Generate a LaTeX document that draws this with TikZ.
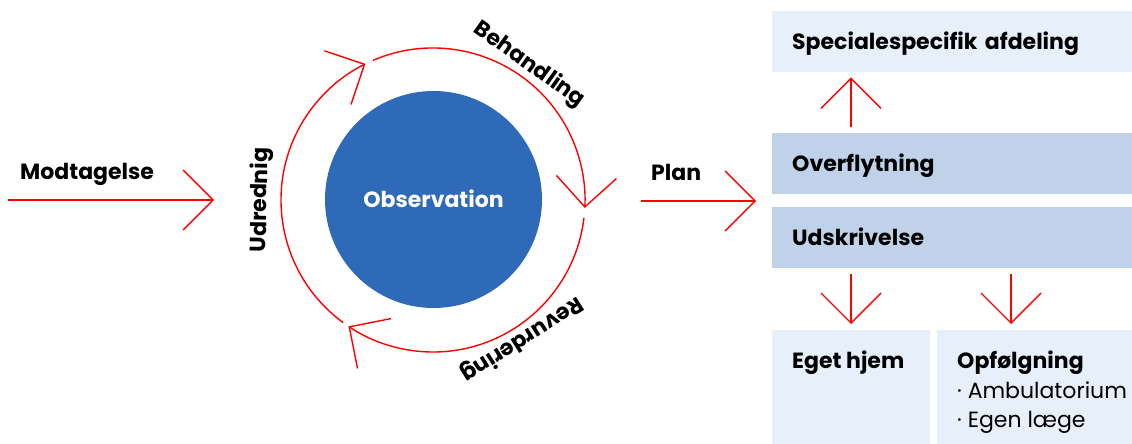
\documentclass[tikz,border=0pt]{standalone}
\usepackage{fontspec}
\setmainfont{Poppins}
\usetikzlibrary{arrows.meta,calc}
\definecolor{ringred}{RGB}{255,0,0}
\definecolor{obsblue}{RGB}{46,106,184}
\definecolor{paleblue}{RGB}{231,240,250}
\definecolor{midblue}{RGB}{192,210,234}
\begin{document}
\begin{tikzpicture}[x=1pt,y=-1pt,
  flow/.style={draw=ringred,line width=1.4pt,-{Straight Barb[length=30pt,width=60pt]}},
  lbl/.style={font=\bfseries\fontsize{22}{26}\selectfont,inner sep=0pt},
  item/.style={font=\fontsize{22}{26}\selectfont,inner sep=0pt},
  stage/.style={lbl,anchor=north west,inner xsep=20pt,inner ysep=0pt,
    text width=320pt,align=left,minimum height=61pt,text height=16pt,text depth=0pt},
  dest/.style={anchor=north west,inner sep=0pt,fill=paleblue}
]
\useasboundingbox (0,0) rectangle (1132,444);

% intake arrow
\node[lbl,anchor=base west] (modt) at (20,179) {Modtagelse};
\coordinate (in0) at (8,200);
\coordinate (in1) at (214,200);
\draw[flow] (in0) -- (in1);

% observation core and cycle
\coordinate (c) at (433,200);
\node[circle,fill=obsblue,minimum size=217pt,inner sep=0pt,text=white,
  font=\bfseries\fontsize{22}{26}\selectfont,text height=16pt,text depth=0pt]
  (obs) at (433.5,199.5) {Observation};
\draw[flow] ($(c)+(-113.3:152)$) arc[start angle=-113.3,end angle=3,radius=152];
\draw[flow] ($(c)+(6.8:152)$) arc[start angle=6.8,end angle=123.8,radius=152];
\draw[flow] ($(c)+(126.2:152)$) arc[start angle=126.2,end angle=243.6,radius=152];
\node[lbl,rotate=-35.4] (beh) at ($(c)+(-54.6:166)$) {Behandling};
\node[lbl,rotate=-147.5] (rev) at ($(c)+(57.5:165)$) {Revurdering};
\node[lbl,rotate=89] (udr) at ($(c)+(180:172)$) {Udrednig};

% plan arrow
\node[lbl,anchor=base west] (plan) at (651,180) {Plan};
\coordinate (p0) at (641,201);
\coordinate (p1) at (756,201);
\draw[flow] (p0) -- (p1);

% outcome boxes
\node[stage,fill=paleblue] (spec) at (772,11) {Specialespecifik afdeling};
\node[stage,fill=midblue] (over) at (772,133) {Overflytning};
\node[stage,fill=midblue] (udsk) at (772,207) {Udskrivelse};
\node[dest,minimum width=158pt,minimum height=114pt] (hjem) at (772,330) {};
\node[dest,minimum width=195pt,minimum height=114pt] (opfb) at (937,330) {};
\node[lbl,anchor=base west] (hjemt) at (792,368) {Eget hjem};
\node[lbl,anchor=base west] (opf) at (957,368) {Opfølgning};
\node[item,anchor=base west] (amb) at (957,398) {· Ambulatorium};
\node[item,anchor=base west] (egl) at (957,427) {· Egen læge};

\draw[flow,shorten <=6pt,shorten >=5pt] (over.north -| 851,0) -- (spec.south -| 851,0);
\draw[flow,shorten <=6pt,shorten >=6pt] (udsk.south -| 851,0) -- (hjem.north -| 851,0);
\draw[flow,shorten <=6pt,shorten >=6pt] (udsk.south -| 1011,0) -- (opfb.north -| 1011,0);
\end{tikzpicture}
\end{document}
